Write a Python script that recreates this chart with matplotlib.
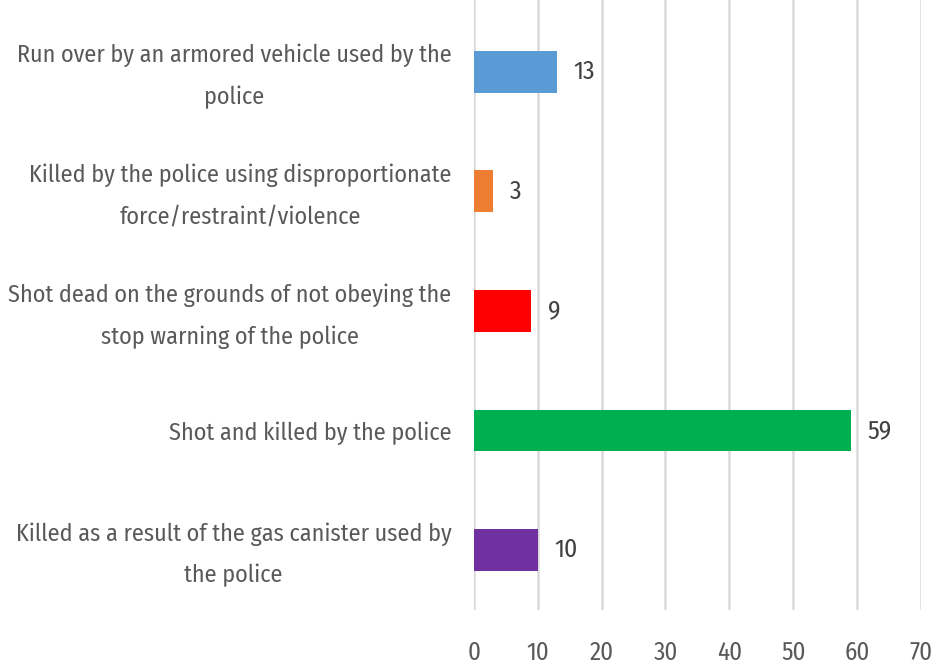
import matplotlib
matplotlib.use("Agg")
import matplotlib.pyplot as plt
import matplotlib.transforms as mtransforms

# data ---------------------------------------------------------------
categories = [
    "Run over by an armored vehicle used by the\npolice",
    "Killed by the police using disproportionate\nforce/restraint/violence",
    "Shot dead on the grounds of not obeying the\nstop warning of the police",
    "Shot and killed by the police",
    "Killed as a result of the gas canister used by\nthe police",
]
values = [13, 3, 9, 59, 10]
colors = ["#5B9BD5", "#ED7D31", "#FF0000", "#00B050", "#7030A0"]
xticks = [0, 10, 20, 30, 40, 50, 60, 70]

plt.rcParams["font.family"] = ["Fira Sans Condensed", "Carlito", "DejaVu Sans"]

txt = "#595959"

fig = plt.figure(figsize=(9.38, 6.68), dpi=100)
ax = fig.add_axes([0.505, 0.087, 0.477, 0.913])

ypos = list(range(len(values)))
ax.barh(ypos, values, height=0.35, color=colors, zorder=3)

# value labels to the right of each bar
for y, v in zip(ypos, values):
    ax.annotate(str(v), (v, y), xytext=(12, 0), textcoords="offset points",
                va="center", ha="left", fontsize=18.5, color="#404040")

ax.set_xlim(0, 70)
ax.set_ylim(4.5, -0.6)
ax.set_xticks(xticks)
ax.set_yticks(ypos)
ax.set_yticklabels(categories, fontsize=17.4, color=txt, linespacing=2.0,
                   ha="right", multialignment="center")
ax.tick_params(axis="y", length=0, pad=16)
ax.tick_params(axis="x", length=0, pad=22, labelsize=18, labelcolor=txt)
ax.grid(axis="x", color="#D9D9D9", linewidth=1.8, zorder=0)
for s in ax.spines.values():
    s.set_visible(False)

# nudge the two-line labels up a bit so they sit centred on the bars
up = mtransforms.ScaledTranslation(0, 5 / 72, fig.dpi_scale_trans)
for lab in ax.get_yticklabels():
    if "\n" in lab.get_text():
        lab.set_transform(lab.get_transform() + up)

fig.savefig("out.png", dpi=100)
